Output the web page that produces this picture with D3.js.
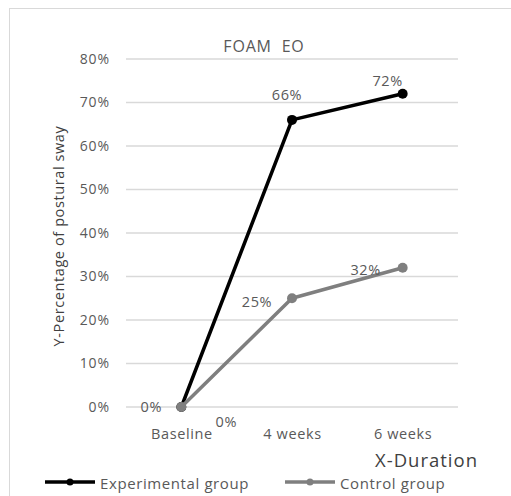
<!DOCTYPE html>
<html><head><meta charset="utf-8">
<script src="https://cdn.jsdelivr.net/npm/d3@7"></script>
<style>body{margin:0;background:#fff}svg{display:block}</style>
</head><body>
<svg id="c" width="511" height="496"></svg>
<script>
const categories = ["Baseline", "4 weeks", "6 weeks"];
const experimental = [0, 0.66, 0.72];
const control = [0, 0.25, 0.32];
const yTicks = [0, 0.1, 0.2, 0.3, 0.4, 0.5, 0.6, 0.7, 0.8];
const seriesNames = ["Experimental group", "Control group"];
const seriesColors = ["#000000", "#7f7f7f"];

const svg = d3.select("#c");
const font = "'Open Sans', sans-serif";
svg.append("rect").attr("x", 9.5).attr("y", 8.5).attr("width", 520).attr("height", 520)
  .attr("fill", "#fff").attr("stroke", "#d9d9d9").attr("stroke-width", 1);

const x = d3.scalePoint().domain(categories).range([126, 458]).padding(0.5);
const y = d3.scaleLinear().domain([0, 0.8]).range([407, 59]);

const yAxis = d3.axisLeft(y).tickValues(yTicks).tickFormat(d3.format(".0%")).tickSize(0).tickPadding(16);
const gy = svg.append("g").attr("transform", "translate(126,0)").call(yAxis);
gy.select(".domain").remove();
gy.selectAll("text").attr("fill", "#595959").style("font", "14px " + font).style("letter-spacing", "0.9px");
svg.append("g").selectAll("line").data(yTicks).join("line")
  .attr("x1", 126).attr("x2", 458).attr("y1", d => y(d)).attr("y2", d => y(d))
  .attr("stroke", "#d9d9d9").attr("stroke-width", 1.5);

const xAxis = d3.axisBottom(x).tickSize(0).tickPadding(22);
const gx = svg.append("g").attr("transform", "translate(0,407)").call(xAxis);
gx.select(".domain").remove();
gx.selectAll("text").attr("fill", "#595959").style("font", "14.5px " + font).style("letter-spacing", "0.6px");

svg.append("text").attr("x", 264).attr("y", 52).attr("text-anchor", "middle")
  .style("white-space", "pre")
  .attr("fill", "#595959").style("font", "16px " + font).style("letter-spacing", "0.8px").text("FOAM  EO");
svg.append("text").attr("transform", "translate(64,236) rotate(-90)").attr("text-anchor", "middle")
  .attr("fill", "#404040").style("font", "14.5px " + font).style("letter-spacing", "0.6px").text("Y-Percentage of postural sway");
svg.append("text").attr("x", 478).attr("y", 467).attr("text-anchor", "end")
  .attr("fill", "#404040").style("font", "18.5px " + font).style("letter-spacing", "1px").text("X-Duration");

const line = d3.line().x((d, i) => x(categories[i])).y(d => y(d));
[experimental, control].forEach((s, k) => {
  svg.append("path").datum(s).attr("d", line).attr("fill", "none")
    .attr("stroke", seriesColors[k]).attr("stroke-width", 3.5).attr("stroke-linejoin", "round");
  svg.append("g").selectAll("circle").data(s).join("circle")
    .attr("cx", (d, i) => x(categories[i])).attr("cy", d => y(d)).attr("r", 5)
    .attr("fill", seriesColors[k]);
});

// data labels
const fmt = d3.format(".0%");
const expOff = [[-30, 5], [-5, -20], [-15, -8]];
const ctlOff = [[45, 20], [-35, 9], [-37, 7]];
svg.append("g").selectAll("text").data(experimental).join("text")
  .attr("x", (d, i) => x(categories[i]) + expOff[i][0]).attr("y", (d, i) => y(d) + expOff[i][1])
  .attr("text-anchor", "middle").attr("fill", "#595959").style("font", "14.5px " + font).style("letter-spacing", "0.6px").text(d => fmt(d));
svg.append("g").selectAll("text").data(control).join("text")
  .attr("x", (d, i) => x(categories[i]) + ctlOff[i][0]).attr("y", (d, i) => y(d) + ctlOff[i][1])
  .attr("text-anchor", "middle").attr("fill", "#595959").style("font", "14.5px " + font).style("letter-spacing", "0.6px").text(d => fmt(d));

// legend
const legX = [45, 285];
seriesNames.forEach((n, k) => {
  const g = svg.append("g").attr("transform", `translate(${legX[k]},482)`);
  g.append("line").attr("x1", 0).attr("x2", 50).attr("stroke", seriesColors[k]).attr("stroke-width", 3.5);
  g.append("circle").attr("cx", 25).attr("r", 3.5).attr("fill", seriesColors[k]);
  g.append("text").attr("x", 55).attr("y", 7).attr("fill", "#595959")
    .style("font", "15px " + font).style("letter-spacing", "0.6px").text(n);
});
</script>
</body></html>
